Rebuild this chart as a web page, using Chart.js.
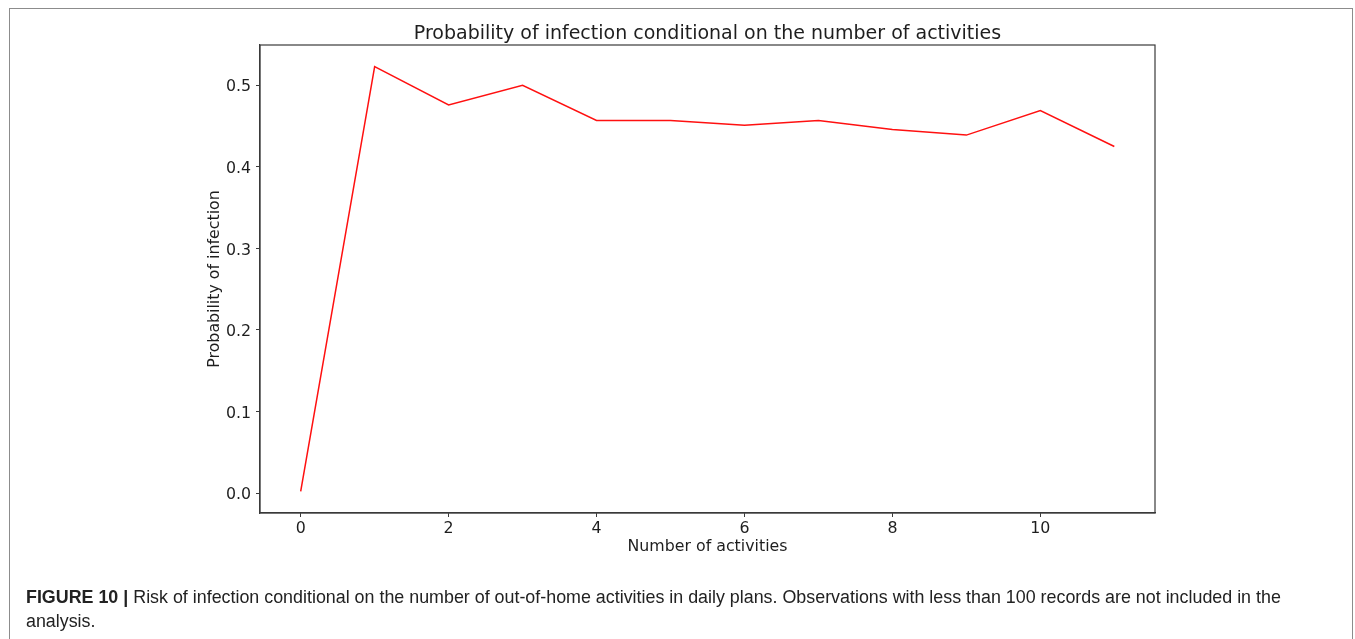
<!DOCTYPE html>
<html>
<head>
<meta charset="utf-8">
<script src="https://cdn.jsdelivr.net/npm/chart.js@4"></script>
<style>
  html, body { margin: 0; padding: 0; background: #fff; }
  body { width: 1355px; height: 639px; position: relative; overflow: hidden; }
  #frame {
    position: absolute; left: 9px; top: 8px; width: 1344px; height: 700px;
    border: 1.5px solid #8c8c8c; box-sizing: border-box;
  }
  #plot { position: absolute; left: 0; top: 0; }
  #caption {
    position: absolute; left: 26px; top: 585px;
    font-family: "Liberation Sans", Arial, sans-serif; font-size: 17.87px;
    line-height: 24px; color: #222; white-space: nowrap;
  }
  #caption b { font-weight: bold; }
</style>
</head>
<body>
<div id="frame"></div>
<canvas id="plot" width="1355" height="639"></canvas>
<div id="caption"><b>FIGURE 10 |</b> Risk of infection conditional on the number of out-of-home activities in daily plans. Observations with less than 100 records are not included in the<br>analysis.</div>
<script>
// Number of out-of-home activities per daily plan
const activities = [0, 1, 2, 3, 4, 5, 6, 7, 8, 9, 10, 11];
// Share of people infected for each activity count
const infectionProbability = [0.002, 0.523, 0.476, 0.500, 0.457, 0.457, 0.451, 0.457, 0.446, 0.439, 0.469, 0.425];
// Axis tick values
const xTicks = [0, 2, 4, 6, 8, 10];
const yTicks = [0.0, 0.1, 0.2, 0.3, 0.4, 0.5];

const TEXT = '#1e1e1e';
const AXIS = '#3a3a3a';
const FONT = 'DejaVu Sans';

// Draws the closed box around the plotting area
const axesBox = {
  id: 'axesBox',
  afterDraw(chart) {
    const { ctx, chartArea: a } = chart;
    ctx.save();
    ctx.strokeStyle = AXIS;
    ctx.lineWidth = 1.2;
    ctx.strokeRect(a.left, a.top, a.right - a.left, a.bottom - a.top);
    ctx.restore();
  }
};

new Chart(document.getElementById('plot'), {
  type: 'line',
  data: {
    datasets: [{
      data: activities.map((x, i) => ({ x, y: infectionProbability[i] })),
      borderColor: '#ff1010',
      borderWidth: 1.5,
      pointRadius: 0,
      tension: 0,
      fill: false
    }]
  },
  options: {
    responsive: false,
    animation: false,
    layout: { padding: { left: 196, right: 200, top: 0, bottom: 76 } },
    plugins: {
      legend: { display: false },
      tooltip: { enabled: false },
      title: {
        display: true,
        fullSize: false,
        text: 'Probability of infection conditional on the number of activities',
        color: TEXT,
        font: { family: FONT, size: 19, weight: 'normal', lineHeight: 1.1 },
        padding: { top: 24, bottom: 0.1 }
      }
    },
    scales: {
      x: {
        type: 'linear',
        min: -0.55,
        max: 11.55,
        afterBuildTicks(scale) { scale.ticks = xTicks.map(v => ({ value: v })); },
        afterFit(scale) { scale.height = 50; },
        ticks: {
          color: TEXT, padding: 2, maxRotation: 0,
          font: { family: FONT, size: 15.8 },
          callback: v => String(v)
        },
        grid: { drawOnChartArea: false, drawTicks: true, tickLength: 4, tickColor: AXIS },
        border: { display: true, color: AXIS, width: 1.2 },
        title: {
          display: true, text: 'Number of activities', color: TEXT,
          font: { family: FONT, size: 15.8, lineHeight: 1.2 },
          padding: { top: 0, bottom: 7 }
        }
      },
      y: {
        type: 'linear',
        min: -0.0245,
        max: 0.5495,
        afterBuildTicks(scale) { scale.ticks = yTicks.map(v => ({ value: v })); },
        afterFit(scale) { scale.width = 64; },
        ticks: {
          color: TEXT, padding: 5, labelOffset: 2,
          font: { family: FONT, size: 15.8 },
          callback: v => Number(v).toFixed(1)
        },
        grid: { drawOnChartArea: false, drawTicks: true, tickLength: 4, tickColor: AXIS },
        border: { display: true, color: AXIS, width: 1.2 },
        title: {
          display: true, text: 'Probability of infection', color: TEXT,
          font: { family: FONT, size: 15.8, lineHeight: 1.2 },
          padding: { top: 9, bottom: 0 }
        }
      }
    }
  },
  plugins: [axesBox]
});
</script>
</body>
</html>
